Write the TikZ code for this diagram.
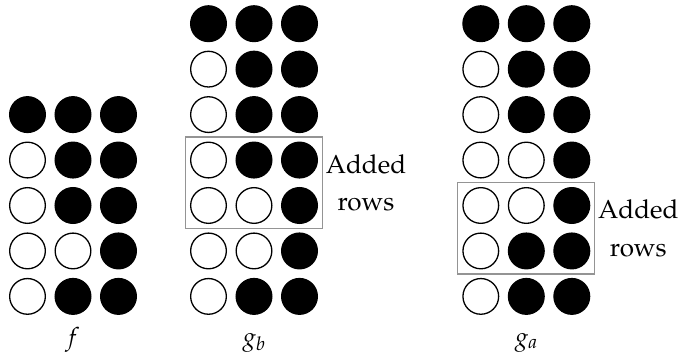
\documentclass[tikz,border=0pt]{standalone}
\usepackage[T1]{fontenc}
\usepackage{mathpazo}
\usetikzlibrary{fit}
\begin{document}
\begin{tikzpicture}[x=1pt,y=-1pt,
  dot/.style={circle,draw=black,line width=1.3pt,minimum size=35.7pt,inner sep=0pt},
  B/.style={dot,fill=black},
  W/.style={dot,fill=white},
  groupbox/.style={draw=black!42,line width=1.3pt,inner sep=4.5pt},
  note/.style={anchor=west,align=center,inner sep=2.5pt,font=\fontsize{26}{37.5}\selectfont},
  labeltext/.style={anchor=base,inner sep=0pt,font=\fontsize{25}{30}\selectfont}]
\useasboundingbox (0,0) rectangle (678,358);

% draws a grid of circles: #1 prefix, #2 first x, #3 first row index, #4 list of rows
\newcommand\dotgrid[4]{%
  \foreach \pattern [count=\r from #3] in {#4} {%
    \foreach \s [count=\c] in \pattern {%
      \node[\s] (#1-\r-\c) at ({#2+45.5*(\c-1)},{23.7+45.45*(\r-1)}) {};
    }%
  }%
}

% f
\dotgrid{f}{27.5}{3}{{B,B,B},{W,B,B},{W,B,B},{W,W,B},{W,B,B}}
% g_b
\dotgrid{gb}{208.5}{1}{{B,B,B},{W,B,B},{W,B,B},{W,B,B},{W,W,B},{W,W,B},{W,B,B}}
% g_a
\dotgrid{ga}{480.8}{1}{{B,B,B},{W,B,B},{W,B,B},{W,W,B},{W,W,B},{W,B,B},{W,B,B}}

% highlighted rows
\node[groupbox,fit=(gb-4-1)(gb-5-3)] (boxb) {};
\node[groupbox,fit=(ga-5-1)(ga-6-3)] (boxa) {};
\node[note] (noteb) at (boxb.east) {Added\\rows};
\node[note] (notea) at (boxa.east) {Added\\rows};

% labels
\node[labeltext] (labf) at (72.5,345) {$f$};
\node[labeltext] (labgb) at (254,345) {$g_b$};
\node[labeltext] (labga) at (526.3,345) {$g_a$};
\end{tikzpicture}
\end{document}
